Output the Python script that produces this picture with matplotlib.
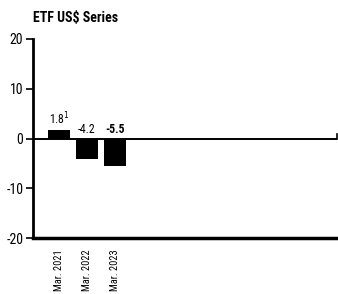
import numpy as np
import matplotlib.pyplot as plt
import matplotlib.transforms as mtransforms
from matplotlib import font_manager

periods = ["Mar. 2021", "Mar. 2022", "Mar. 2023"]
returns = [1.8, -4.2, -5.5]
value_labels = ["1.8$^{1}$", "-4.2", "-5.5"]

names = {f.name for f in font_manager.fontManager.ttflist}
narrow = [n for n in ["Liberation Sans Narrow", "Roboto Condensed", "DejaVu Sans"] if n in names]
plt.rcParams['font.family'] = narrow + ['DejaVu Sans']
plt.rcParams['font.stretch'] = 'condensed'
plt.rcParams['axes.unicode_minus'] = False

fig = plt.figure(figsize=(3.38, 2.94), dpi=100)
ax = fig.add_axes([33 / 338, 56 / 294, 304 / 338, 199 / 294])

x = np.arange(len(returns))
ax.bar(x, returns, width=0.79, color="black")
ax.axhline(0, color="black", lw=1.4)
ax.plot([1, 1], [0, 0.9], color="black", lw=1.2,
        transform=ax.get_yaxis_transform(), clip_on=False)

for xi, v, lab in zip(x, returns, value_labels):
    ax.text(xi, max(v, 0) + 0.5, lab, ha="center", va="bottom", fontsize=8.5,
            fontweight="bold" if v < -5 else "normal")

ax.set_xlim(-0.93, 9.93)
ax.set_ylim(-20, 20)
ax.set_yticks([-20, -10, 0, 10, 20])
ax.set_xticks(x)
ax.set_xticklabels(periods, rotation=90, fontsize=7.5, va="top")
off = mtransforms.ScaledTranslation(7 / 100, 0, fig.dpi_scale_trans)
for t in ax.get_xticklabels():
    t.set_transform(t.get_transform() + off)
ax.tick_params(axis="x", length=0, pad=8)
ax.tick_params(axis="y", length=5, width=1.2, labelsize=10, pad=2)

for s in ["top", "right"]:
    ax.spines[s].set_visible(False)
ax.spines["left"].set_linewidth(2)
ax.spines["bottom"].set_linewidth(2.5)

fig.text(33 / 338, 1 - 18 / 294, "ETF US$ Series", fontsize=10,
         fontweight="bold", ha="left", va="center")

fig.savefig("out.png", dpi=100)
